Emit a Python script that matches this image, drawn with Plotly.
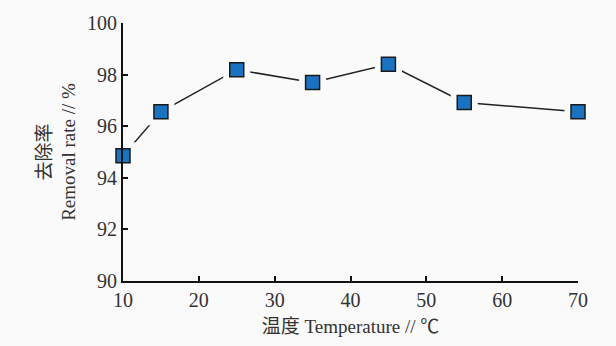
import plotly.graph_objects as go

temperature = [10, 15, 25, 35, 45, 55, 70]
removal_rate = [94.85, 96.56, 98.19, 97.69, 98.40, 96.92, 96.56]
x_ticks = [10, 20, 30, 40, 50, 60, 70]
y_ticks = [90, 92, 94, 96, 98, 100]

bg = "#fafafa"
fig = go.Figure()
fig.add_trace(go.Scatter(x=temperature, y=removal_rate, mode="lines",
                         line=dict(color="#222222", width=1.5), cliponaxis=False, hoverinfo="skip"))
fig.add_trace(go.Scatter(x=temperature, y=removal_rate, mode="markers",
                         marker=dict(symbol="square", size=27, color=bg, line=dict(width=0)),
                         cliponaxis=False, hoverinfo="skip"))
fig.add_trace(go.Scatter(x=temperature, y=removal_rate, mode="markers",
                         marker=dict(symbol="square", size=14, color="#1a73c0",
                                     line=dict(color="#1a1a1a", width=1.5)),
                         cliponaxis=False))

font = "Liberation Serif, Times New Roman, serif"
tfont = "Liberation Serif, Noto Sans CJK SC, serif"
fig.update_layout(
    width=616, height=346, showlegend=False,
    paper_bgcolor=bg, plot_bgcolor=bg,
    margin=dict(l=123, r=38, t=17, b=63),
    font=dict(family=font, color="#333333", size=18),
)
fig.update_xaxes(range=[10, 70], tickvals=x_ticks, ticks="inside", ticklen=5, tickwidth=2,
                 tickcolor="#111111", showline=True, linecolor="#111111", linewidth=2,
                 showgrid=False, zeroline=False,
                 tickfont=dict(family=font, size=20, color="#333333"),
                 title=dict(text="温度 Temperature // ℃", standoff=10,
                            font=dict(family=tfont, size=19, color="#333333")))
fig.update_yaxes(range=[90, 100], tickvals=y_ticks, ticks="inside", ticklen=5, tickwidth=2,
                 tickcolor="#111111", showline=True, linecolor="#111111", linewidth=2,
                 showgrid=False, zeroline=False,
                 tickfont=dict(family=font, size=20, color="#333333"),
                 title=dict(text="去除率<br>Removal rate // %", standoff=6,
                            font=dict(family=tfont, size=19, color="#333333")))
fig.write_html("out.html")
